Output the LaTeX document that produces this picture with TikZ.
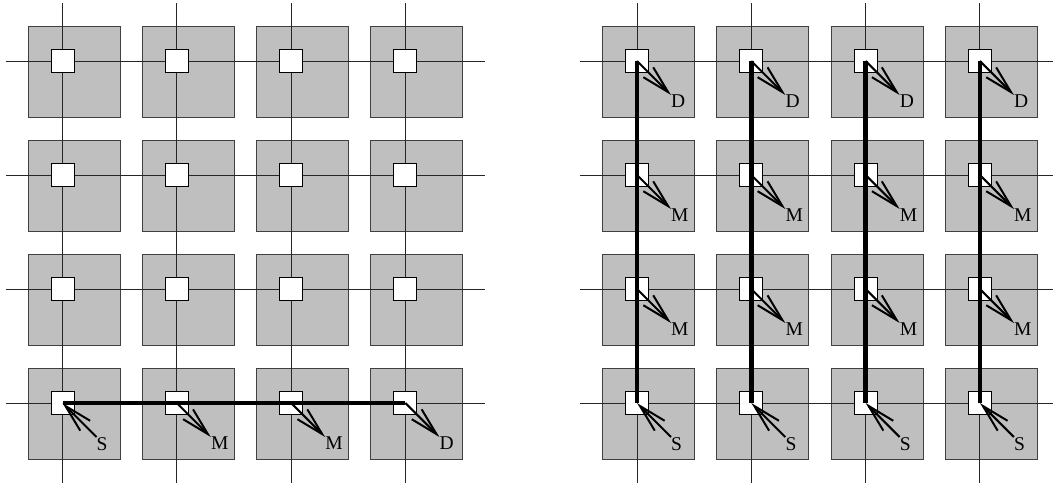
\documentclass[tikz,border=0pt]{standalone}
\usepackage{fontspec}
\setmainfont{Liberation Serif}
\usetikzlibrary{arrows.meta}
\begin{document}
\begin{tikzpicture}[x=1pt,y=-1pt,
  tile/.style={draw=black!75,fill=black!25,line width=1pt},
  router/.style={draw=black,fill=white,line width=1pt,minimum size=23pt,inner sep=0pt,outer sep=0pt},
  wire/.style={line width=1pt,black!85},
  route/.style={line width=4.5pt,black},
  ptr/.style={line width=2pt,-{Straight Barb[length=28pt,width=14pt,line width=2pt]}},
  lbl/.style={anchor=north west,inner sep=0pt,font=\fontsize{19.5}{20}\selectfont}]
\useasboundingbox (0,0) rectangle (1053,485);
% tiles
\foreach \p/\ox in {L/62.5,R/637}{
  \foreach \i in {0,...,3}{
    \foreach \j in {0,...,3}{
      \path[tile] ({\ox+114.3*\i-34.5},{61+114*\j-35}) rectangle ({\ox+114.3*\i+57.5},{61+114*\j+56});
    }
  }
}
% wires
\foreach \p/\ox in {L/62.5,R/637}{
  \foreach \j in {0,...,3}{
    \coordinate (\p-h\j-a) at ({\ox-57},{61+114*\j});
    \coordinate (\p-h\j-b) at ({\ox+342.9+80},{61+114*\j});
    \draw[wire] (\p-h\j-a) -- (\p-h\j-b);
  }
  \foreach \i in {0,...,3}{
    \coordinate (\p-v\i-a) at ({\ox+114.3*\i},3);
    \coordinate (\p-v\i-b) at ({\ox+114.3*\i},483);
    \draw[wire] (\p-v\i-a) -- (\p-v\i-b);
  }
}
% routers
\foreach \p/\ox in {L/62.5,R/637}{
  \foreach \i in {0,...,3}{
    \foreach \j in {0,...,3}{
      \node[router] (\p-\i-\j) at ({\ox+114.3*\i},{61+114*\j}) {};
    }
  }
}
% routes
\draw[route] (L-0-3.center) -- (L-3-3.center);
\foreach \i in {0,...,3}{
  \draw[route] (R-\i-0.center) -- (R-\i-3.center);
}
% left panel labels and arrows
\node[lbl] (lS) at ([shift={(34,34)}]L-0-3.center) {S};
\draw[ptr] (lS.north west) -- (L-0-3.center);
\node[lbl] (lM1) at ([shift={(34,34)}]L-1-3.center) {M};
\draw[ptr] (L-1-3.center) -- (lM1.north west);
\node[lbl] (lM2) at ([shift={(34,34)}]L-2-3.center) {M};
\draw[ptr] (L-2-3.center) -- (lM2.north west);
\node[lbl] (lD) at ([shift={(34,34)}]L-3-3.center) {D};
\draw[ptr] (L-3-3.center) -- (lD.north west);
% right panel labels and arrows
\foreach \i in {0,...,3}{
  \node[lbl] (rD\i) at ([shift={(34,34)}]R-\i-0.center) {D};
  \draw[ptr] (R-\i-0.center) -- (rD\i.north west);
  \node[lbl] (rMa\i) at ([shift={(34,34)}]R-\i-1.center) {M};
  \draw[ptr] (R-\i-1.center) -- (rMa\i.north west);
  \node[lbl] (rMb\i) at ([shift={(34,34)}]R-\i-2.center) {M};
  \draw[ptr] (R-\i-2.center) -- (rMb\i.north west);
  \node[lbl] (rS\i) at ([shift={(34,34)}]R-\i-3.center) {S};
  \draw[ptr] (rS\i.north west) -- (R-\i-3.center);
}
\end{tikzpicture}
\end{document}
